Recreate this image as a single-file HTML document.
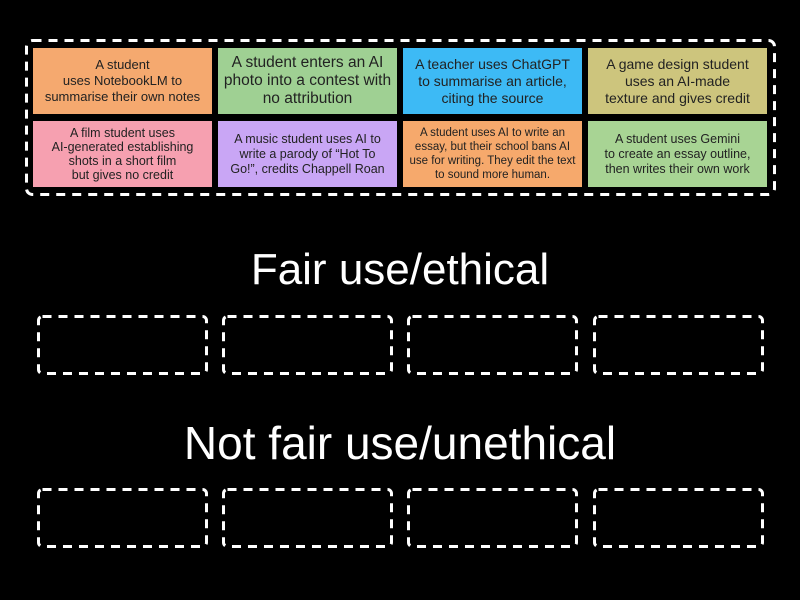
<!DOCTYPE html>
<html><head><style>
body{margin:0;width:800px;height:600px;background:#000;position:relative;overflow:hidden;font-family:"Liberation Sans",sans-serif}
.c{position:absolute;width:179px;height:66px;display:flex;align-items:center;justify-content:center;text-align:center;color:#222;box-sizing:border-box;padding:0 7px}
.t{position:absolute;left:0;width:800px;text-align:center;color:#fff;line-height:44px}
svg{position:absolute;left:0;top:0}
</style></head><body>
<svg width="800" height="600">
<g fill="none" stroke="#fff" stroke-width="3" stroke-dasharray="9 7">
<rect x="26.5" y="40.5" width="748" height="154" rx="6"/>
<rect x="38.5" y="316.5" width="168" height="57" rx="4"/>
<rect x="223.5" y="316.5" width="168" height="57" rx="4"/>
<rect x="408.5" y="316.5" width="168" height="57" rx="4"/>
<rect x="594.5" y="316.5" width="168" height="57" rx="4"/>
<rect x="38.5" y="489.5" width="168" height="57" rx="4"/>
<rect x="223.5" y="489.5" width="168" height="57" rx="4"/>
<rect x="408.5" y="489.5" width="168" height="57" rx="4"/>
<rect x="594.5" y="489.5" width="168" height="57" rx="4"/>
</g></svg>
<div class="c" style="left:33px;top:48px;background:#f5a96f;font-size:13px;line-height:16px;padding:0 2px">A student<br>uses NotebookLM to<br>summarise their own notes</div>
<div class="c" style="left:218px;top:48px;background:#9fd093;font-size:15.5px;line-height:18px;padding:0 2px">A student enters an AI photo into a contest with no attribution</div>
<div class="c" style="left:403px;top:48px;background:#3dbaf5;font-size:14px;line-height:17px">A teacher uses ChatGPT to summarise an article, citing the source</div>
<div class="c" style="left:588px;top:48px;background:#cdc57d;font-size:14px;line-height:17px;padding:0 3px">A game design student<br>uses an AI-made<br>texture and gives credit</div>
<div class="c" style="left:33px;top:121px;background:#f6a0b0;font-size:12.5px;line-height:14px;padding:0 2px">A film student uses<br>AI-generated establishing<br>shots in a short film<br>but gives no credit</div>
<div class="c" style="left:218px;top:121px;background:#c9a6f5;font-size:12.5px;line-height:15px;padding:0 10px">A music student uses AI to write a parody of “Hot To Go!”, credits Chappell Roan</div>
<div class="c" style="left:403px;top:121px;background:#f6a96c;font-size:11.5px;line-height:14px;padding:0 3px">A student uses AI to write an essay, but their school bans AI use for writing. They edit the text to sound more human.</div>
<div class="c" style="left:588px;top:121px;background:#a8d494;font-size:12.5px;line-height:15px;padding:0 6px">A student uses Gemini<br>to create an essay outline,<br>then writes their own work</div>
<div class="t" style="top:248px;font-size:44px">Fair use/ethical</div>
<div class="t" style="top:421px;font-size:46px">Not fair use/unethical</div>
</body></html>
